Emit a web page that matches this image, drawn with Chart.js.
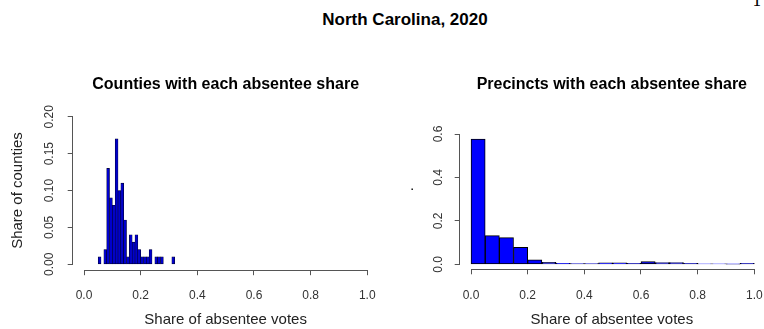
<!DOCTYPE html>
<html>
<head>
<meta charset="utf-8">
<script src="https://cdn.jsdelivr.net/npm/chart.js@4.4.1/dist/chart.umd.min.js"></script>
<style>
  body { margin: 0; width: 764px; height: 329px; background: #fff; position: relative; overflow: hidden;
         font-family: "Liberation Sans", Arial, sans-serif; }
  #mainTitle { position: absolute; left: 255px; width: 300px; top: 10px; line-height: 20px; text-align: center;
               font-weight: bold; font-size: 17px; color: #000; }
  #pageNo { position: absolute; left: 752px; top: -7px; font-family: "DejaVu Serif", serif; font-size: 16px; line-height: 16px; }
  canvas { position: absolute; top: 0; }
  #countyChart { left: 0; }
  #precinctChart { left: 382px; }
</style>
</head>
<body>
<div id="pageNo">1</div>
<div id="mainTitle">North Carolina, 2020</div>
<canvas id="countyChart" width="382" height="329"></canvas>
<canvas id="precinctChart" width="382" height="329"></canvas>
<script>
// histogram bins (left edge) and share in each bin
const countyBinWidth = 0.01;
const countyBinStart = [0.05, 0.06, 0.07, 0.08, 0.09, 0.10, 0.11, 0.12, 0.13, 0.14, 0.15, 0.16, 0.17, 0.18,
                        0.19, 0.20, 0.21, 0.22, 0.23, 0.24, 0.25, 0.26, 0.27, 0.28, 0.29, 0.30, 0.31];
const countyShare = [0.01, 0, 0.02, 0.13, 0.09, 0.08, 0.17, 0.10, 0.11, 0.06, 0.01, 0.04, 0.03, 0.04,
                     0.02, 0.01, 0.01, 0.01, 0.02, 0, 0.01, 0.01, 0.01, 0, 0, 0, 0.01];

const precinctBinWidth = 0.05;
const precinctBinStart = [0, 0.05, 0.10, 0.15, 0.20, 0.25, 0.30, 0.35, 0.40, 0.45,
                          0.50, 0.55, 0.60, 0.65, 0.70, 0.75, 0.80, 0.85, 0.90, 0.95];
const precinctShare = [0.577, 0.132, 0.123, 0.078, 0.021, 0.009, 0.004, 0.003, 0.003, 0.007,
                       0.007, 0.005, 0.013, 0.008, 0.008, 0.005, 0.002, 0.002, 0.001, 0.005];

const xTicks = [0, 0.2, 0.4, 0.6, 0.8, 1.0];
const countyTicks = [0, 0.05, 0.10, 0.15, 0.20];
const precinctTicks = [0, 0.2, 0.4, 0.6];

// R draws the axis line only between the first and last tick
const rAxisLines = {
  id: 'rAxisLines',
  afterDraw(chart, args, opts) {
    const { ctx, chartArea, scales: { x, y } } = chart;
    const xs = x.ticks.map(t => t.value), ys = y.ticks.map(t => t.value);
    const bx = Math.round(chartArea.bottom) + 0.5;
    const lx = Math.round(chartArea.left) - 0.5;
    ctx.save();
    ctx.strokeStyle = opts.color;
    ctx.lineWidth = 1;
    ctx.beginPath();
    ctx.moveTo(Math.round(x.getPixelForValue(xs[0])), bx);
    ctx.lineTo(Math.round(x.getPixelForValue(xs[xs.length - 1])) + 1, bx);
    ctx.moveTo(lx, Math.round(y.getPixelForValue(ys[0])) + 1);
    ctx.lineTo(lx, Math.round(y.getPixelForValue(ys[ys.length - 1])));
    ctx.stroke();
    ctx.restore();
  }
};

function histChart(canvasId, s) {
  const points = s.starts.map((b, i) => ({ x: b + s.binWidth / 2, y: s.values[i] }));
  return new Chart(document.getElementById(canvasId), {
    type: 'bar',
    data: {
      datasets: [{
        data: points,
        backgroundColor: s.fill,
        borderColor: s.border,
        borderWidth: s.borderWidth,
        borderSkipped: false,
        categoryPercentage: 1,
        barPercentage: 1
      }]
    },
    options: {
      responsive: false,
      animation: false,
      devicePixelRatio: 1,
      layout: { padding: { left: 0, right: s.padRight, top: 0, bottom: 0 } },
      plugins: {
        legend: { display: false },
        tooltip: { enabled: false },
        title: {
          display: true,
          text: s.title,
          fullSize: false,
          color: '#000',
          font: { family: '"Liberation Sans", Arial, sans-serif', size: 16, weight: 'bold' },
          padding: { top: 75.4, bottom: s.titleGap }
        },
        rAxisLines: { color: '#555' }
      },
      scales: {
        x: {
          type: 'linear',
          min: -0.04,
          max: s.xMax,
          offset: false,
          border: { display: false },
          grid: { drawOnChartArea: false, drawTicks: true, tickLength: 5, color: '#555', offset: false },
          afterBuildTicks: sc => { sc.ticks = xTicks.map(v => ({ value: v })); },
          afterFit: sc => { sc.height = s.xAxisHeight; sc.paddingLeft = 0; sc.paddingRight = 0; },
          ticks: {
            autoSkip: false, maxRotation: 0, padding: s.xTickPad, color: '#333',
            font: { family: '"Liberation Sans", Arial, sans-serif', size: 12 },
            callback: v => v.toFixed(1)
          },
          title: {
            display: true, text: 'Share of absentee votes', color: '#222',
            font: { family: '"Liberation Sans", Arial, sans-serif', size: 15 },
            padding: { top: 0, bottom: 0 }
          }
        },
        y: {
          type: 'linear',
          min: s.yMin,
          max: s.yMax,
          border: { display: false },
          grid: { drawOnChartArea: false, drawTicks: true, tickLength: 5, color: '#555' },
          afterBuildTicks: sc => { sc.ticks = s.yTicks.map(v => ({ value: v })); },
          afterFit: sc => { sc.width = s.yAxisWidth; },
          ticks: {
            minRotation: 90, maxRotation: 90, crossAlign: 'center', padding: s.yTickPad, color: '#333',
            font: { family: '"Liberation Sans", Arial, sans-serif', size: 12 },
            callback: v => v.toFixed(s.yDigits)
          },
          title: {
            display: true, text: s.yTitle, color: '#222',
            font: { family: '"Liberation Sans", Arial, sans-serif', size: 15 },
            padding: { top: s.yTitlePad, bottom: 0 }
          }
        }
      }
    },
    plugins: [rAxisLines]
  });
}

histChart('countyChart', {
  starts: countyBinStart, values: countyShare, binWidth: countyBinWidth,
  fill: '#0000cc', border: '#00002a', borderWidth: 0.6,
  title: 'Counties with each absentee share', titleGap: 16.2,
  padRight: 3.4, xMax: 1.04, xAxisHeight: 58.8, xTickPad: 13.6,
  yMin: -0.008, yMax: 0.2081, yTicks: countyTicks, yDigits: 2,
  yAxisWidth: 72.7, yTickPad: 6, yTitle: 'Share of counties', yTitlePad: 9
});

histChart('precinctChart', {
  starts: precinctBinStart, values: precinctShare, binWidth: precinctBinWidth,
  fill: '#0000ff', border: '#000000', borderWidth: 1,
  title: 'Precincts with each absentee share', titleGap: 39.2,
  padRight: 0, xMax: 1.0342, xAxisHeight: 59.7, xTickPad: 14.5,
  yMin: -0.023, yMax: 0.601, yTicks: precinctTicks, yDigits: 1,
  yAxisWidth: 77.7, yTickPad: 7.4, yTitle: '\u00a0\u00a0\u00a0\u00a0\u00a0\u00a0.', yTitlePad: 17.7
});
</script>
</body>
</html>
